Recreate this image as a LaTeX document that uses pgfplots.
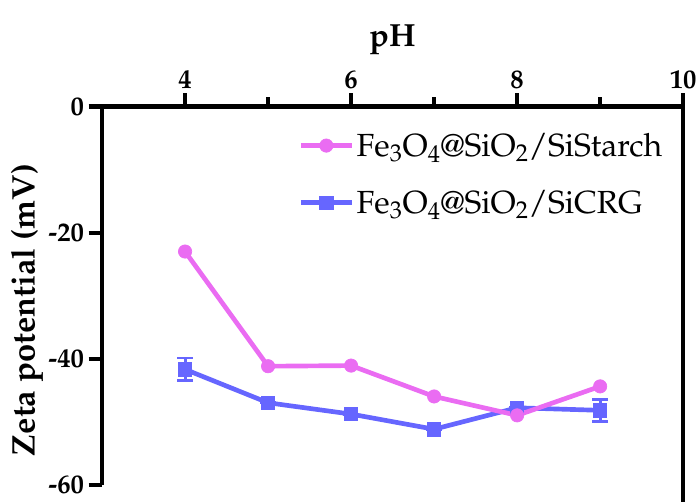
\documentclass[border=0pt]{standalone}
\usepackage[T1]{fontenc}
\usepackage{mathpazo}
\usepackage{pgfplots}
\pgfplotsset{compat=1.18}
\definecolor{starch}{RGB}{234,108,242}
\definecolor{crg}{RGB}{102,102,255}
\begin{document}
\begin{tikzpicture}
\begin{axis}[
 name=ax,
 scale only axis, width=435.75pt, height=283.5pt,
 xmin=3, xmax=10, ymin=-60, ymax=0,
 axis x line*=top, axis y line*=left,
 axis line style={line width=3.2pt},
 xtick={4,6,8,10}, minor xtick={5,7,9},
 ytick={0,-20,-40,-60},
 tick align=outside,
 major tick length=10pt, minor tick length=7pt,
 every tick/.style={black, line width=3.2pt},
 /pgf/number format/assume math mode=true,
 ticklabel style={font=\fontsize{20}{24}\selectfont\bfseries},
 xlabel={pH}, ylabel={Zeta potential (mV)},
 xlabel style={font=\fontsize{24}{28}\selectfont\bfseries, yshift=5pt},
 ylabel style={font=\fontsize{24.5}{28}\selectfont\bfseries, at={(rel axis cs:-0.129,0.462)}, anchor=center},
 clip=false,
 reverse legend,
 legend style={at={(0.331,0.945)}, anchor=north west, draw=none, fill=none,
   font=\fontsize{24}{28}\selectfont, row sep=20pt, legend cell align=left},
 legend image code/.code={\draw[mark repeat=2,mark phase=2,#1] plot coordinates {(0pt,0pt) (19pt,0pt) (38pt,0pt)};},
]
\addplot[crg, line width=3.5pt, mark=square*, mark size=5pt, mark options={line width=0.5pt},
  error bars/.cd, y dir=both, y explicit,
  error bar style={line width=2.2pt, crg},
  error mark options={rotate=90, mark size=6pt, line width=2.2pt, crg}]
  coordinates {(4,-41.7) +- (0,1.8) (5,-47) +- (0,0) (6,-48.8) +- (0,0) (7,-51.2) +- (0,0) (8,-47.8) +- (0,0) (9,-48.2) +- (0,1.7)};
\addlegendentry{Fe$_3$O$_4$@SiO$_2$/SiCRG}
\addplot[starch, line width=3.5pt, mark=*, mark size=5pt, mark options={line width=0.5pt}]
  coordinates {(4,-23) (5,-41.2) (6,-41.1) (7,-46) (8,-49) (9,-44.4)};
\addlegendentry{Fe$_3$O$_4$@SiO$_2$/SiStarch}
\draw[line width=3.2pt, line cap=rect] (rel axis cs:1,1) -- (rel axis cs:1,-0.046);
\coordinate (bbA) at (rel axis cs:-0.1756,-0.0458);
\coordinate (bbB) at (rel axis cs:1.029,1.282);
\end{axis}
\pgfresetboundingbox
\path (bbA) rectangle (bbB);
\end{tikzpicture}
\end{document}
